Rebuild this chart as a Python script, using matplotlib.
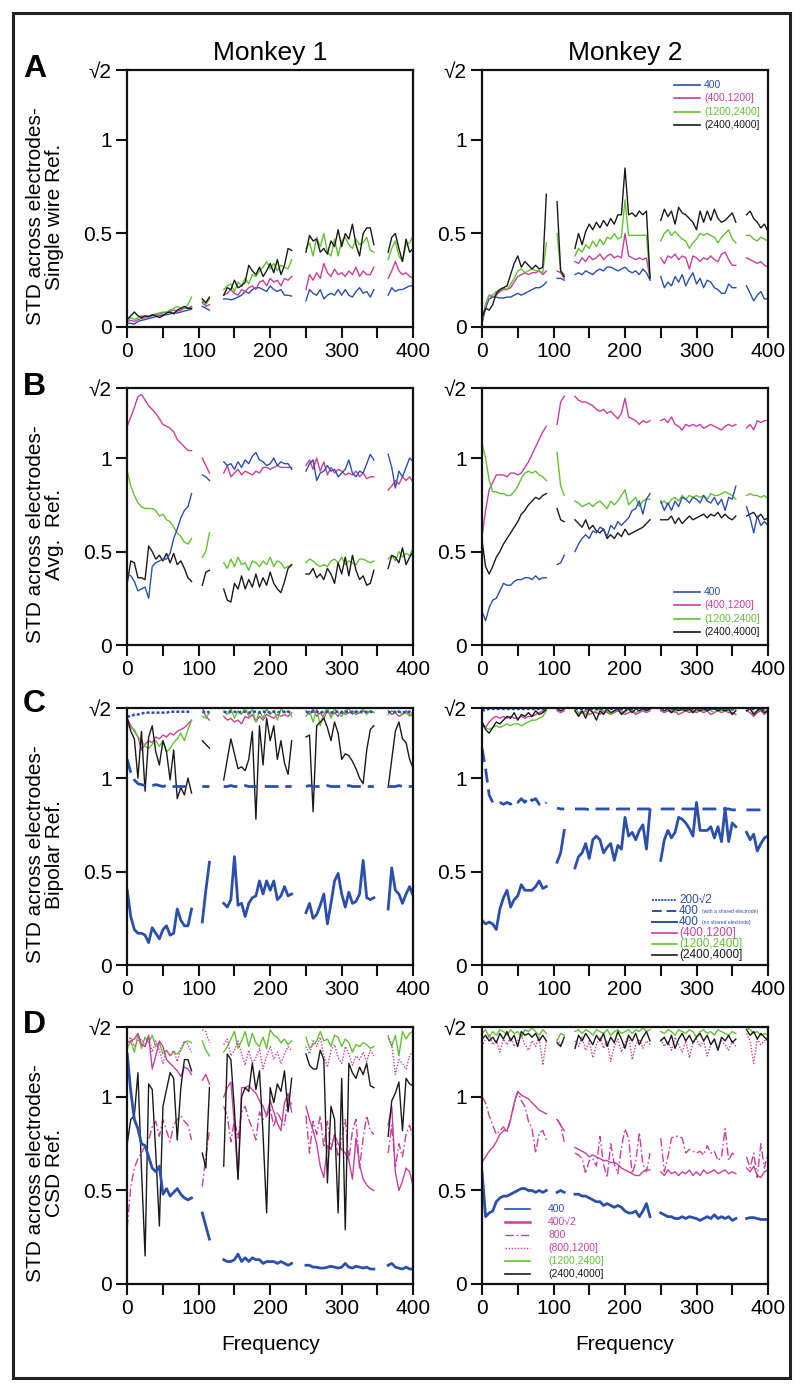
import numpy as np
import matplotlib
matplotlib.use("Agg")
import matplotlib.pyplot as plt
from matplotlib.patches import Rectangle

plt.rcParams['font.family'] = ['Liberation Sans', 'DejaVu Sans']

# ---------------------------------------------------------------- data
FREQ_STEP = 5
SEGMENTS_M1 = [(0, 90), (105, 115), (135, 230), (250, 345), (365, 400)]
SEGMENTS_M2 = [(0, 90), (105, 115), (130, 235), (250, 355), (370, 400)]
X_TICKS = [0, 50, 100, 150, 200, 250, 300, 350, 400]
X_TICK_LABELS = ['0', '', '100', '', '200', '', '300', '', '400']
Y_TICKS = [0, 0.5, 1, 1.375]
Y_TICK_LABELS = ['0', '0.5', '1', '√2']
MONKEYS = ['Monkey 1', 'Monkey 2']
PANEL_LETTERS = ['A', 'B', 'C', 'D']
Y_LABELS = ['STD across electrodes-\nSingle wire Ref.',
            'STD across electrodes-\nAvg.  Ref.',
            'STD across electrodes-\nBipolar Ref.',
            'STD across electrodes-\nCSD Ref.']
X_LABEL = 'Frequency'

# Panel A, monkey 1
A1_400 = [[0.02,0.02,0.015,0.03,0.035,0.04,0.045,0.05,0.055,0.06,0.065,0.065,0.07,0.075,0.075,0.08,0.085,0.09,0.095],
          [0.11,0.10,0.09],
          [0.15,0.15,0.145,0.15,0.16,0.17,0.19,0.18,0.20,0.21,0.21,0.20,0.19,0.22,0.20,0.19,0.20,0.17,0.17,0.165],
          [0.14,0.20,0.18,0.17,0.20,0.15,0.17,0.18,0.17,0.20,0.17,0.20,0.17,0.16,0.19,0.21,0.18,0.19,0.16,0.20],
          [0.17,0.21,0.19,0.20,0.20,0.21,0.22,0.22]]
A1_MAG = [[0.03,0.035,0.03,0.04,0.045,0.05,0.055,0.06,0.065,0.07,0.075,0.08,0.085,0.09,0.085,0.09,0.10,0.10,0.11],
          [0.13,0.11,0.12],
          [0.17,0.18,0.20,0.18,0.17,0.20,0.19,0.21,0.22,0.20,0.24,0.25,0.22,0.26,0.24,0.25,0.22,0.26,0.25,0.27],
          [0.20,0.28,0.25,0.29,0.26,0.34,0.29,0.27,0.31,0.28,0.29,0.27,0.30,0.28,0.32,0.27,0.30,0.28,0.28,0.32],
          [0.26,0.30,0.35,0.30,0.28,0.29,0.27,0.26]]
A1_GREEN = [[0.03,0.05,0.04,0.05,0.06,0.055,0.06,0.065,0.07,0.075,0.08,0.08,0.09,0.10,0.11,0.10,0.10,0.12,0.16],
            [0.14,0.12,0.15],
            [0.20,0.22,0.23,0.19,0.24,0.22,0.26,0.23,0.28,0.27,0.30,0.32,0.35,0.31,0.34,0.30,0.33,0.32,0.31,0.36],
            [0.42,0.45,0.38,0.48,0.43,0.50,0.40,0.38,0.47,0.38,0.46,0.48,0.44,0.42,0.47,0.44,0.45,0.48,0.41,0.40],
            [0.36,0.42,0.46,0.38,0.35,0.44,0.45,0.49]]
A1_BLACK = [[0.04,0.06,0.08,0.06,0.05,0.06,0.055,0.065,0.06,0.05,0.06,0.075,0.08,0.07,0.09,0.10,0.11,0.10,0.10],
            [0.15,0.13,0.16],
            [0.17,0.21,0.20,0.25,0.21,0.22,0.24,0.33,0.30,0.28,0.32,0.27,0.30,0.34,0.29,0.36,0.28,0.33,0.42,0.41],
            [0.40,0.49,0.46,0.47,0.40,0.42,0.39,0.46,0.43,0.52,0.43,0.50,0.47,0.55,0.44,0.38,0.50,0.53,0.53,0.44],
            [0.40,0.48,0.50,0.42,0.35,0.47,0.40,0.42]]

# Panel A, monkey 2
A2_400 = [[0.02,0.10,0.15,0.16,0.16,0.155,0.155,0.16,0.16,0.17,0.18,0.17,0.18,0.19,0.20,0.21,0.21,0.22,0.24],
          [0.26,0.26,0.25],
          [0.28,0.29,0.28,0.30,0.29,0.28,0.30,0.31,0.30,0.32,0.32,0.31,0.30,0.31,0.32,0.30,0.29,0.30,0.28,0.31,0.29,0.25],
          [0.27,0.21,0.24,0.22,0.27,0.24,0.28,0.22,0.26,0.29,0.23,0.26,0.21,0.25,0.24,0.21,0.20,0.18,0.18,0.23,0.21,0.21],
          [0.22,0.18,0.14,0.17,0.19,0.15,0.15]]
A2_MAG = [[0.03,0.12,0.17,0.16,0.17,0.19,0.20,0.20,0.21,0.24,0.27,0.28,0.29,0.28,0.29,0.29,0.30,0.28,0.30],
          [0.30,0.29,0.26],
          [0.35,0.34,0.37,0.35,0.38,0.36,0.37,0.39,0.36,0.38,0.39,0.37,0.38,0.37,0.50,0.38,0.37,0.36,0.37,0.36,0.37,0.26],
          [0.37,0.34,0.38,0.37,0.39,0.36,0.38,0.37,0.31,0.38,0.37,0.35,0.37,0.36,0.38,0.36,0.35,0.39,0.40,0.36,0.33,0.33],
          [0.37,0.36,0.35,0.34,0.35,0.33,0.32]]
A2_GREEN = [[0.03,0.12,0.17,0.17,0.19,0.20,0.21,0.20,0.23,0.26,0.30,0.31,0.29,0.30,0.31,0.30,0.30,0.29,0.45],
            [0.50,0.30,0.28],
            [0.38,0.42,0.40,0.44,0.42,0.46,0.43,0.47,0.44,0.48,0.47,0.50,0.47,0.48,0.68,0.49,0.49,0.49,0.49,0.49,0.49,0.27],
            [0.46,0.50,0.52,0.49,0.51,0.49,0.47,0.46,0.42,0.45,0.47,0.50,0.49,0.50,0.49,0.48,0.45,0.48,0.50,0.52,0.47,0.45],
            [0.49,0.49,0.47,0.46,0.48,0.47,0.46]]
A2_BLACK = [[0.05,0.10,0.09,0.12,0.18,0.20,0.21,0.22,0.28,0.34,0.38,0.32,0.35,0.33,0.31,0.33,0.31,0.32,0.71],
            [0.67,0.30,0.27],
            [0.42,0.50,0.44,0.51,0.55,0.52,0.56,0.53,0.57,0.54,0.58,0.55,0.60,0.60,0.85,0.60,0.61,0.59,0.62,0.60,0.62,0.26],
            [0.57,0.63,0.59,0.62,0.55,0.64,0.61,0.60,0.58,0.56,0.52,0.62,0.56,0.62,0.57,0.63,0.58,0.56,0.57,0.59,0.61,0.56],
            [0.60,0.62,0.58,0.56,0.53,0.55,0.51]]

# Panel B, monkey 1
B1_400 = [[0.38,0.37,0.34,0.29,0.30,0.31,0.25,0.42,0.44,0.45,0.46,0.46,0.49,0.57,0.62,0.68,0.72,0.74,0.81],
          [0.91,0.90,0.88],
          [0.98,0.96,0.97,0.94,0.98,0.95,0.99,0.97,1.01,1.03,0.99,0.98,0.96,0.97,1.00,0.96,0.98,0.97,0.97,0.94],
          [0.93,0.97,0.99,0.88,0.92,0.93,0.96,0.93,0.94,0.90,0.92,0.94,0.99,0.92,0.90,0.93,0.92,0.97,1.02,0.99],
          [1.02,0.95,0.84,0.93,0.90,0.95,1.00,0.98]]
B1_MAG = [[1.17,1.22,1.27,1.33,1.34,1.31,1.28,1.26,1.24,1.21,1.18,1.17,1.16,1.14,1.10,1.08,1.06,1.04,1.04],
          [1.00,0.96,0.92],
          [0.92,0.96,0.90,0.92,0.94,0.91,0.93,0.92,0.91,0.93,0.92,0.95,0.95,0.94,0.95,0.96,0.95,0.95,0.95,0.95],
          [0.96,0.99,0.94,1.00,0.93,0.98,0.91,0.95,0.92,0.94,0.93,0.91,0.92,0.91,0.93,0.90,0.92,0.89,0.90,0.90],
          [0.83,0.85,0.88,0.86,0.90,0.88,0.90,0.87]]
B1_GREEN = [[0.93,0.85,0.80,0.76,0.74,0.73,0.73,0.73,0.72,0.69,0.70,0.67,0.66,0.63,0.60,0.58,0.55,0.54,0.57],
            [0.47,0.50,0.60],
            [0.44,0.41,0.46,0.42,0.47,0.43,0.44,0.40,0.45,0.44,0.42,0.45,0.43,0.47,0.42,0.45,0.44,0.41,0.42,0.43],
            [0.44,0.46,0.45,0.43,0.42,0.43,0.42,0.45,0.46,0.44,0.47,0.43,0.45,0.44,0.43,0.46,0.46,0.45,0.44,0.45],
            [0.46,0.48,0.45,0.50,0.47,0.49,0.48,0.52]]
B1_BLACK = [[0.33,0.45,0.44,0.36,0.36,0.35,0.53,0.50,0.46,0.48,0.45,0.49,0.44,0.49,0.43,0.45,0.41,0.36,0.34],
            [0.32,0.39,0.40],
            [0.30,0.24,0.23,0.33,0.30,0.37,0.30,0.35,0.31,0.38,0.31,0.36,0.32,0.39,0.33,0.30,0.28,0.34,0.41,0.43],
            [0.38,0.38,0.41,0.36,0.38,0.35,0.41,0.38,0.33,0.44,0.38,0.47,0.37,0.48,0.40,0.35,0.37,0.32,0.33,0.40],
            [0.41,0.48,0.47,0.44,0.52,0.43,0.47,0.50]]

# Panel B, monkey 2
B2_400 = [[0.18,0.13,0.20,0.24,0.25,0.29,0.33,0.32,0.32,0.34,0.35,0.35,0.36,0.36,0.35,0.37,0.35,0.36,0.36],
          [0.43,0.44,0.48],
          [0.50,0.54,0.57,0.59,0.57,0.61,0.60,0.63,0.62,0.58,0.64,0.62,0.66,0.64,0.66,0.68,0.72,0.73,0.77,0.70,0.78,0.81],
          [0.77,0.72,0.76,0.72,0.77,0.74,0.79,0.78,0.76,0.79,0.78,0.76,0.80,0.77,0.76,0.79,0.75,0.78,0.72,0.79,0.78,0.85],
          [0.74,0.68,0.60,0.69,0.64,0.66,0.64]]
B2_MAG = [[0.58,0.72,0.83,0.87,0.91,0.91,0.91,0.90,0.92,0.92,0.91,0.92,0.95,0.98,1.02,1.06,1.10,1.14,1.17],
          [1.18,1.30,1.33],
          [1.33,1.31,1.30,1.30,1.29,1.28,1.26,1.25,1.26,1.24,1.25,1.23,1.21,1.24,1.32,1.22,1.21,1.20,1.18,1.20,1.19,1.20],
          [1.20,1.21,1.19,1.22,1.18,1.17,1.15,1.18,1.17,1.18,1.17,1.18,1.16,1.17,1.18,1.17,1.16,1.15,1.17,1.18,1.17,1.18],
          [1.16,1.18,1.15,1.20,1.19,1.20,1.20]]
B2_GREEN = [[1.08,1.00,0.88,0.82,0.82,0.81,0.81,0.80,0.80,0.82,0.85,0.89,0.92,0.93,0.92,0.93,0.91,0.90,0.88],
            [1.03,0.85,0.80],
            [0.77,0.76,0.74,0.75,0.76,0.74,0.76,0.77,0.75,0.73,0.77,0.75,0.77,0.80,0.83,0.75,0.77,0.79,0.74,0.77,0.78,0.78],
            [0.76,0.77,0.75,0.78,0.79,0.77,0.80,0.78,0.80,0.79,0.80,0.79,0.80,0.78,0.81,0.80,0.80,0.81,0.82,0.81,0.80,0.78],
            [0.80,0.81,0.80,0.80,0.79,0.80,0.78]]
B2_BLACK = [[0.56,0.42,0.38,0.42,0.47,0.50,0.54,0.57,0.60,0.63,0.66,0.70,0.72,0.75,0.77,0.79,0.78,0.80,0.81],
            [0.73,0.67,0.66],
            [0.67,0.65,0.63,0.67,0.62,0.64,0.61,0.60,0.62,0.57,0.59,0.57,0.60,0.58,0.62,0.59,0.60,0.61,0.62,0.63,0.65,0.67],
            [0.67,0.67,0.67,0.69,0.65,0.68,0.65,0.67,0.69,0.67,0.68,0.69,0.70,0.68,0.70,0.69,0.71,0.68,0.70,0.68,0.67,0.69],
            [0.69,0.70,0.71,0.68,0.70,0.67,0.68]]

# Panel C, monkey 1
C1_R2 = [[1.33,1.33,1.34,1.34,1.345,1.35,1.35,1.35,1.35,1.35,1.35,1.35,1.355,1.355,1.355,1.355,1.355,1.355,1.355],
         [1.355,1.35,1.355],
         [1.355,1.35,1.355,1.355,1.35,1.355,1.355,1.35,1.355,1.355,1.35,1.355,1.355,1.35,1.355,1.355,1.35,1.355,1.355,1.35],
         [1.355,1.35,1.355,1.355,1.35,1.355,1.355,1.35,1.355,1.355,1.35,1.355,1.355,1.35,1.355,1.355,1.35,1.355,1.355,1.35],
         [1.355,1.35,1.355,1.355,1.35,1.355,1.355,1.35]]
C1_SHARED = [[1.10,1.03,0.99,0.97,0.965,0.96,0.96,0.96,0.965,0.96,0.955,0.96,0.955,0.955,0.955,0.955,0.955,0.955,0.955],
             [0.955,0.955,0.955],
             [0.955,0.955,0.96,0.955,0.955,0.955,0.96,0.955,0.955,0.955,0.955,0.96,0.955,0.955,0.955,0.955,0.96,0.955,0.955,0.955],
             [0.955,0.96,0.955,0.955,0.955,0.955,0.96,0.955,0.955,0.955,0.955,0.955,0.96,0.955,0.955,0.955,0.955,0.955,0.955,0.955],
             [0.955,0.955,0.955,0.96,0.955,0.955,0.955,0.955]]
C1_NOSHARED = [[0.40,0.26,0.19,0.17,0.17,0.16,0.12,0.20,0.17,0.14,0.19,0.21,0.16,0.17,0.30,0.24,0.21,0.21,0.30],
               [0.23,0.40,0.55],
               [0.33,0.31,0.35,0.58,0.32,0.33,0.26,0.33,0.36,0.37,0.45,0.38,0.45,0.40,0.45,0.35,0.37,0.42,0.37,0.38],
               [0.28,0.33,0.25,0.27,0.32,0.38,0.22,0.33,0.45,0.49,0.38,0.31,0.39,0.33,0.34,0.38,0.56,0.36,0.35,0.36],
               [0.30,0.52,0.40,0.38,0.33,0.38,0.42,0.37]]
C1_MAG = [[1.32,1.28,1.25,1.22,1.15,1.18,1.20,1.19,1.22,1.21,1.23,1.22,1.24,1.23,1.25,1.26,1.27,1.29,1.31],
          [1.38,1.33,1.31],
          [1.33,1.31,1.32,1.30,1.31,1.29,1.33,1.32,1.34,1.30,1.33,1.31,1.34,1.33,1.32,1.34,1.33,1.34,1.33,1.35],
          [1.36,1.34,1.37,1.33,1.35,1.32,1.36,1.33,1.35,1.33,1.36,1.34,1.35,1.36,1.34,1.35,1.36,1.35,1.36,1.35],
          [1.36,1.34,1.35,1.33,1.34,1.36,1.34,1.33]]
C1_GREEN = [[1.28,1.27,1.26,1.22,1.20,1.17,1.16,1.18,1.20,1.17,1.20,1.14,1.16,1.19,1.21,1.24,1.20,1.26,1.31],
            [1.33,1.32,1.35],
            [1.36,1.34,1.37,1.32,1.36,1.34,1.38,1.33,1.37,1.30,1.36,1.32,1.37,1.34,1.36,1.31,1.37,1.35,1.36,1.33],
            [1.33,1.36,1.30,1.37,1.28,1.34,1.38,1.32,1.37,1.35,1.33,1.36,1.37,1.34,1.36,1.35,1.37,1.34,1.36,1.35],
            [1.34,1.36,1.35,1.36,1.34,1.35,1.33,1.36]]
C1_BLACK = [[1.32,1.25,1.21,1.00,1.25,0.93,1.22,1.28,1.14,1.07,1.20,1.14,0.99,1.15,0.89,0.95,0.91,1.00,0.92],
            [1.20,1.18,1.16],
            [0.99,1.10,1.21,1.13,1.05,1.06,1.04,1.10,1.25,0.78,1.28,1.07,1.32,1.20,1.28,1.10,1.20,1.08,1.02,1.20],
            [1.22,1.23,0.82,1.28,1.30,1.32,1.27,1.20,1.30,1.24,1.10,1.13,1.12,1.09,1.05,1.00,0.97,1.15,1.26,1.28],
            [0.95,1.10,1.25,1.30,1.21,1.19,1.10,1.05]]

# Panel C, monkey 2
C2_R2 = [[1.36,1.365,1.37,1.37,1.37,1.37,1.37,1.37,1.37,1.37,1.37,1.37,1.37,1.37,1.37,1.37,1.37,1.37,1.37],
         [1.37,1.37,1.37],
         [1.37,1.37,1.37,1.37,1.37,1.37,1.37,1.37,1.37,1.37,1.37,1.37,1.37,1.37,1.37,1.37,1.37,1.37,1.37,1.37,1.37,1.37],
         [1.37,1.37,1.37,1.37,1.37,1.37,1.37,1.37,1.37,1.37,1.37,1.37,1.37,1.37,1.37,1.37,1.37,1.37,1.37,1.37,1.37,1.37],
         [1.37,1.37,1.37,1.37,1.37,1.37,1.37]]
C2_SHARED = [[1.16,1.05,0.91,0.87,0.87,0.87,0.86,0.87,0.86,0.88,0.87,0.89,0.87,0.90,0.88,0.89,0.86,0.85,0.87],
             [0.84,0.835,0.835],
             [0.835,0.835,0.835,0.835,0.83,0.835,0.835,0.835,0.835,0.835,0.835,0.83,0.835,0.835,0.835,0.835,0.835,0.835,0.835,0.835,0.835,0.835],
             [0.835,0.835,0.835,0.835,0.835,0.835,0.835,0.835,0.835,0.835,0.835,0.835,0.835,0.835,0.835,0.835,0.835,0.835,0.835,0.835,0.83,0.83],
             [0.83,0.83,0.83,0.83,0.83,0.83,0.83]]
C2_NOSHARED = [[0.24,0.22,0.23,0.22,0.19,0.30,0.36,0.40,0.31,0.35,0.37,0.43,0.40,0.40,0.40,0.42,0.45,0.41,0.42],
               [0.55,0.60,0.72],
               [0.52,0.58,0.60,0.65,0.57,0.67,0.69,0.67,0.60,0.63,0.65,0.56,0.64,0.62,0.79,0.69,0.71,0.67,0.72,0.75,0.62,0.83],
               [0.56,0.67,0.72,0.68,0.71,0.79,0.78,0.76,0.73,0.69,0.87,0.72,0.72,0.72,0.74,0.68,0.74,0.66,0.84,0.66,0.76,0.74],
               [0.71,0.67,0.70,0.61,0.65,0.68,0.69]]
C2_MAG = [[1.30,1.27,1.30,1.32,1.33,1.32,1.33,1.32,1.33,1.32,1.32,1.33,1.32,1.33,1.33,1.34,1.35,1.36,1.36],
          [1.36,1.35,1.36],
          [1.36,1.34,1.35,1.36,1.34,1.35,1.35,1.34,1.36,1.35,1.34,1.35,1.36,1.35,1.34,1.35,1.36,1.34,1.35,1.36,1.35,1.36],
          [1.36,1.35,1.36,1.35,1.36,1.34,1.35,1.36,1.35,1.36,1.35,1.36,1.35,1.36,1.34,1.35,1.36,1.35,1.36,1.35,1.35,1.34],
          [1.36,1.35,1.33,1.35,1.36,1.34,1.36]]
C2_GREEN = [[1.28,1.27,1.26,1.27,1.28,1.27,1.28,1.29,1.28,1.29,1.29,1.28,1.29,1.30,1.31,1.31,1.32,1.33,1.36],
            [1.37,1.36,1.37],
            [1.37,1.35,1.36,1.34,1.37,1.35,1.36,1.37,1.35,1.36,1.34,1.36,1.37,1.36,1.35,1.37,1.36,1.35,1.36,1.37,1.36,1.37],
            [1.37,1.36,1.37,1.36,1.35,1.37,1.36,1.37,1.36,1.35,1.36,1.37,1.36,1.37,1.36,1.35,1.37,1.36,1.37,1.36,1.36,1.37],
            [1.36,1.37,1.35,1.36,1.37,1.36,1.36]]
C2_BLACK = [[1.30,1.26,1.24,1.27,1.30,1.29,1.31,1.33,1.32,1.35,1.31,1.34,1.33,1.35,1.33,1.36,1.34,1.35,1.37],
            [1.37,1.36,1.37],
            [1.36,1.33,1.36,1.32,1.37,1.35,1.31,1.36,1.34,1.37,1.35,1.36,1.37,1.34,1.36,1.37,1.35,1.37,1.36,1.37,1.36,1.37],
            [1.37,1.36,1.37,1.35,1.37,1.36,1.37,1.36,1.37,1.35,1.37,1.36,1.37,1.36,1.37,1.37,1.36,1.37,1.36,1.37,1.34,1.36],
            [1.36,1.37,1.34,1.36,1.37,1.35,1.36]]

# Panel D, monkey 1
D1_400 = [[1.23,1.03,0.88,0.83,0.75,0.74,0.68,0.62,0.60,0.63,0.48,0.51,0.47,0.49,0.51,0.48,0.46,0.45,0.46],
          [0.38,0.31,0.24],
          [0.13,0.12,0.12,0.13,0.16,0.12,0.14,0.12,0.14,0.13,0.13,0.11,0.12,0.12,0.12,0.11,0.12,0.11,0.10,0.11],
          [0.10,0.10,0.09,0.09,0.085,0.085,0.09,0.095,0.09,0.085,0.09,0.11,0.09,0.085,0.095,0.09,0.085,0.09,0.08,0.08],
          [0.10,0.11,0.09,0.085,0.08,0.09,0.08,0.08]]
D1_400R2 = [[1.29,1.30,1.31,1.34,1.28,1.27,1.33,1.15,1.22,1.30,1.27,1.20,1.18,1.16,1.14,1.11,1.16,1.15,1.12],
            [1.09,1.12,1.07],
            [1.00,1.05,1.08,0.85,0.56,1.05,1.05,1.06,1.04,1.02,0.98,0.95,0.90,0.98,0.92,0.86,0.82,0.97,1.02,0.92],
            [0.95,0.88,0.82,0.75,0.63,0.57,0.74,0.72,0.80,0.75,0.72,0.70,0.66,0.56,0.78,0.64,0.56,0.53,0.51,0.50],
            [0.85,0.95,0.60,0.50,0.55,0.62,0.60,0.52]]
D1_800 = [[0.30,0.52,0.62,0.67,0.70,0.74,0.77,0.84,0.87,0.79,0.88,0.82,0.76,0.85,0.88,0.90,0.87,0.85,0.77],
          [0.52,0.68,0.82],
          [0.95,0.90,0.76,0.88,0.78,0.92,0.95,0.88,0.83,0.77,0.92,0.88,0.90,0.94,0.84,0.92,0.88,0.85,1.00,0.96],
          [0.90,0.70,0.87,0.80,0.90,0.73,0.87,0.72,0.80,0.68,0.78,0.88,0.66,0.82,0.88,0.62,0.78,0.90,0.82,0.80],
          [0.70,0.85,0.62,0.75,0.68,0.80,0.85,0.78]]
D1_800_1200 = [[1.30,1.32,1.27,1.30,1.31,1.27,1.32,1.24,1.30,1.25,1.18,1.25,1.22,1.25,1.19,1.26,1.30,1.28,1.24],
               [1.36,1.35,1.29],
               [1.28,1.31,1.22,1.25,1.30,1.23,1.17,1.25,1.18,1.21,1.26,1.15,1.22,1.27,1.20,1.24,1.18,1.23,1.27,1.25],
               [1.27,1.23,1.30,1.27,1.32,1.22,1.16,1.25,1.28,1.21,1.18,1.27,1.23,1.17,1.22,1.20,1.24,1.19,1.25,1.22],
               [1.33,1.28,1.12,1.20,1.18,1.15,1.22,1.25]]
D1_GREEN = [[1.26,1.30,1.24,1.33,1.26,1.32,1.29,1.33,1.27,1.29,1.23,1.25,1.22,1.24,1.23,1.25,1.29,1.30,1.29],
            [1.30,1.25,1.22],
            [1.24,1.27,1.31,1.35,1.26,1.30,1.35,1.27,1.34,1.29,1.27,1.32,1.26,1.36,1.33,1.32,1.29,1.31,1.28,1.30],
            [1.32,1.26,1.28,1.30,1.35,1.30,1.31,1.27,1.33,1.32,1.27,1.31,1.29,1.24,1.28,1.27,1.29,1.28,1.26,1.27],
            [1.32,1.27,1.33,1.22,1.35,1.31,1.34,1.35]]
D1_BLACK = [[0.75,0.88,0.90,1.13,0.61,0.15,1.07,1.04,0.70,0.31,0.95,1.04,1.13,1.10,0.77,1.05,1.20,1.20,1.14],
            [0.70,0.62,1.05],
            [0.63,1.23,1.20,0.93,0.56,1.00,1.05,1.03,1.18,1.04,1.14,0.80,0.38,1.05,0.97,1.07,1.03,1.14,0.92,1.10],
            [1.23,1.17,1.15,1.15,1.25,1.20,0.54,0.95,0.88,0.38,1.10,0.29,1.18,1.13,1.10,1.16,1.12,1.18,1.06,1.05],
            [0.79,0.98,1.02,1.08,0.82,1.10,1.07,1.06]]

# Panel D, monkey 2
D2_400 = [[0.60,0.36,0.38,0.39,0.44,0.46,0.47,0.47,0.48,0.49,0.50,0.51,0.51,0.50,0.50,0.49,0.50,0.49,0.50],
          [0.49,0.50,0.49],
          [0.48,0.48,0.47,0.47,0.46,0.45,0.44,0.44,0.42,0.43,0.42,0.41,0.42,0.41,0.39,0.38,0.38,0.39,0.36,0.39,0.43,0.36],
          [0.38,0.37,0.36,0.36,0.35,0.35,0.36,0.35,0.36,0.355,0.35,0.34,0.35,0.36,0.35,0.37,0.35,0.36,0.35,0.36,0.34,0.35],
          [0.35,0.355,0.355,0.35,0.345,0.345,0.345]]
D2_400R2 = [[0.65,0.68,0.71,0.73,0.76,0.80,0.82,0.82,0.88,0.97,1.03,1.01,1.00,0.99,0.97,0.95,0.93,0.92,0.91],
            [0.88,0.85,0.82],
            [0.73,0.72,0.71,0.70,0.68,0.69,0.68,0.67,0.66,0.66,0.65,0.65,0.64,0.62,0.61,0.60,0.59,0.58,0.58,0.60,0.61,0.61],
            [0.60,0.58,0.61,0.59,0.60,0.58,0.60,0.59,0.61,0.58,0.60,0.58,0.61,0.59,0.60,0.61,0.59,0.60,0.61,0.59,0.60,0.59],
            [0.62,0.60,0.63,0.58,0.57,0.60,0.61]]
D2_800 = [[1.00,0.97,0.90,0.85,0.80,0.82,0.84,0.81,0.88,0.96,1.03,0.98,0.95,0.87,0.83,0.70,0.81,0.82,0.77],
          [0.88,0.85,0.76],
          [0.70,0.69,0.67,0.59,0.66,0.67,0.63,0.79,0.64,0.57,0.75,0.64,0.59,0.73,0.83,0.78,0.59,0.65,0.81,0.64,0.60,0.70],
          [0.78,0.60,0.68,0.78,0.79,0.79,0.78,0.70,0.72,0.71,0.70,0.71,0.69,0.74,0.70,0.71,0.66,0.68,0.83,0.66,0.70,0.68],
          [0.68,0.62,0.70,0.57,0.75,0.62,0.70]]
D2_800_1200 = [[1.27,1.31,1.33,1.28,1.30,1.24,1.31,1.28,1.32,1.27,1.30,1.33,1.28,1.25,1.30,1.27,1.32,1.17,1.30],
               [1.31,1.28,1.30],
               [1.30,1.27,1.32,1.25,1.30,1.21,1.28,1.32,1.26,1.30,1.19,1.27,1.31,1.24,1.29,1.33,1.20,1.28,1.31,1.26,1.30,1.28],
               [1.31,1.27,1.30,1.25,1.32,1.28,1.24,1.30,1.21,1.29,1.31,1.27,1.30,1.22,1.28,1.31,1.26,1.30,1.28,1.25,1.30,1.27],
               [1.34,1.30,1.18,1.31,1.28,1.30,1.32]]
D2_GREEN = [[1.34,1.36,1.32,1.35,1.33,1.36,1.35,1.33,1.36,1.34,1.35,1.32,1.36,1.35,1.37,1.35,1.33,1.36,1.34],
            [1.30,1.34,1.33],
            [1.35,1.36,1.34,1.36,1.35,1.33,1.36,1.35,1.34,1.36,1.33,1.35,1.36,1.34,1.35,1.36,1.34,1.36,1.35,1.37,1.35,1.36],
            [1.35,1.34,1.36,1.35,1.33,1.36,1.35,1.34,1.36,1.35,1.32,1.35,1.36,1.34,1.35,1.33,1.36,1.35,1.34,1.33,1.35,1.34],
            [1.37,1.36,1.34,1.35,1.33,1.34,1.33]]
D2_BLACK = [[1.31,1.33,1.30,1.32,1.29,1.34,1.31,1.35,1.30,1.33,1.27,1.35,1.33,1.34,1.32,1.34,1.30,1.33,1.30],
            [1.29,1.27,1.32],
            [1.26,1.33,1.30,1.34,1.31,1.28,1.33,1.30,1.34,1.27,1.32,1.29,1.35,1.31,1.26,1.33,1.30,1.34,1.28,1.32,1.35,1.30],
            [1.30,1.32,1.28,1.33,1.26,1.31,1.34,1.30,1.33,1.29,1.32,1.34,1.30,1.33,1.28,1.31,1.25,1.32,1.30,1.33,1.29,1.31],
            [1.36,1.33,1.35,1.31,1.34,1.32,1.30]]

# ---------------------------------------------------------------- style
BLUE = '#2b4fae'
MAG = '#c93e9e'
GREEN = '#62c232'
BLACK = '#1a1a1a'
DOT = (0, (1.2, 0.8))
DASH = (0, (5, 2.5))
DASHDOT = (0, (6, 2, 1.2, 2))
FINEDOT = (0, (1, 1.2))


def build(segments, values):
    xs, ys = [], []
    for (a, b), seg in zip(segments, values):
        f = np.arange(a, b + 1, FREQ_STEP)
        n = min(len(f), len(seg))
        xs.extend(list(f[:n]))
        ys.extend(list(seg[:n]))
        xs.append(np.nan)
        ys.append(np.nan)
    return np.array(xs, float), np.array(ys, float)


# series: (values, color, linestyle, linewidth)
PANELS = {
    (0, 0): [(A1_400, BLUE, '-', 1.0), (A1_MAG, MAG, '-', 1.0), (A1_GREEN, GREEN, '-', 1.0), (A1_BLACK, BLACK, '-', 1.0)],
    (0, 1): [(A2_400, BLUE, '-', 1.0), (A2_MAG, MAG, '-', 1.0), (A2_GREEN, GREEN, '-', 1.0), (A2_BLACK, BLACK, '-', 1.0)],
    (1, 0): [(B1_MAG, MAG, '-', 1.0), (B1_GREEN, GREEN, '-', 1.0), (B1_BLACK, BLACK, '-', 1.0), (B1_400, BLUE, '-', 1.0)],
    (1, 1): [(B2_MAG, MAG, '-', 1.0), (B2_GREEN, GREEN, '-', 1.0), (B2_BLACK, BLACK, '-', 1.0), (B2_400, BLUE, '-', 1.0)],
    (2, 0): [(C1_MAG, MAG, '-', 1.0), (C1_GREEN, GREEN, '-', 1.0), (C1_BLACK, BLACK, '-', 1.0),
             (C1_R2, BLUE, DOT, 1.8), (C1_SHARED, BLUE, DASH, 2.0), (C1_NOSHARED, BLUE, '-', 2.0)],
    (2, 1): [(C2_MAG, MAG, '-', 1.0), (C2_GREEN, GREEN, '-', 1.0), (C2_BLACK, BLACK, '-', 1.0),
             (C2_R2, BLUE, DOT, 1.8), (C2_SHARED, BLUE, DASH, 2.0), (C2_NOSHARED, BLUE, '-', 2.0)],
    (3, 0): [(D1_GREEN, GREEN, '-', 1.0), (D1_800_1200, MAG, FINEDOT, 1.0), (D1_400R2, MAG, '-', 1.0),
             (D1_800, MAG, DASHDOT, 1.0), (D1_BLACK, BLACK, '-', 1.0), (D1_400, BLUE, '-', 2.0)],
    (3, 1): [(D2_GREEN, GREEN, '-', 1.0), (D2_800_1200, MAG, FINEDOT, 1.0), (D2_BLACK, BLACK, '-', 1.0),
             (D2_400R2, MAG, '-', 1.0), (D2_800, MAG, DASHDOT, 1.0), (D2_400, BLUE, '-', 2.0)],
}

LEGENDS = {
    (0, 1): dict(x0=0.671, x1=0.762, xt=0.776, ys=[0.942, 0.891, 0.837, 0.786], fs=7.5,
                 entries=[('400', BLUE, '-', 1.2, None), ('(400,1200]', MAG, '-', 1.2, None),
                          ('(1200,2400]', GREEN, '-', 1.2, None), ('(2400,4000]', BLACK, '-', 1.2, None)]),
    (1, 1): dict(x0=0.671, x1=0.762, xt=0.776, ys=[0.207, 0.155, 0.103, 0.051], fs=7.5,
                 entries=[('400', BLUE, '-', 1.2, None), ('(400,1200]', MAG, '-', 1.2, None),
                          ('(1200,2400]', GREEN, '-', 1.2, None), ('(2400,4000]', BLACK, '-', 1.2, None)]),
    (2, 1): dict(x0=0.594, x1=0.682, xt=0.689, ys=[0.254, 0.211, 0.168, 0.125, 0.082, 0.039], fs=8.5,
                 entries=[('200√2', BLUE, (0, (1, 0.6)), 1.4, None),
                          ('400', BLUE, DASH, 1.4, '(with a shared electrode)'),
                          ('400', BLUE, '-', 1.4, '(no shared electrode)'),
                          ('(400,1200]', MAG, '-', 1.2, None), ('(1200,2400]', GREEN, '-', 1.2, None),
                          ('(2400,4000]', BLACK, '-', 1.2, None)]),
    (3, 1): dict(x0=0.08, x1=0.168, xt=0.231, ys=[0.292, 0.241, 0.191, 0.140, 0.089, 0.039], fs=7.5,
                 entries=[('400', BLUE, '-', 1.2, None), ('400√2', MAG, '-', 1.8, None),
                          ('800', MAG, DASHDOT, 1.0, None), ('(800,1200]', MAG, FINEDOT, 1.0, None),
                          ('(1200,2400]', GREEN, '-', 1.2, None), ('(2400,4000]', BLACK, '-', 1.2, None)]),
}

ROW_BOTTOMS = [0.7651, 0.5366, 0.3067, 0.0776]
ROW_H = 0.1847
COL_LEFTS = [0.159, 0.6025]
COL_W = 0.3575
LETTER_BASELINES = [77, 395, 712, 1033]

fig = plt.figure(figsize=(8, 13.92), dpi=100)

for r in range(4):
    for c in range(2):
        ax = fig.add_axes([COL_LEFTS[c], ROW_BOTTOMS[r], COL_W, ROW_H])
        segs = SEGMENTS_M1 if c == 0 else SEGMENTS_M2
        for vals, color, ls, lw in PANELS[(r, c)]:
            x, y = build(segs, vals)
            ax.plot(x, y, color=color, ls=ls, lw=lw, solid_joinstyle='round')
        ax.set_xlim(0, 400)
        ax.set_ylim(0, 1.375)
        ax.set_xticks(X_TICKS)
        ax.set_xticklabels(X_TICK_LABELS)
        ax.set_yticks(Y_TICKS)
        ax.set_yticklabels(Y_TICK_LABELS)
        ax.tick_params(direction='out', length=8, width=1.5, labelsize=15, pad=3, color='#111')
        for sp in ax.spines.values():
            sp.set_linewidth(1.6)
            sp.set_color('#111')
        if c == 0:
            ax.set_ylabel(Y_LABELS[r], fontsize=15, linespacing=0.95)
            ax.yaxis.set_label_coords(-0.222, 0.43)
        if r == 0:
            ax.set_title(MONKEYS[c], fontsize=19, pad=7)
        if r == 3:
            ax.set_xlabel(X_LABEL, fontsize=15)
            ax.xaxis.set_label_coords(0.5, -0.2)
        if (r, c) in LEGENDS:
            L = LEGENDS[(r, c)]
            for y, (label, color, ls, lw, small) in zip(L['ys'], L['entries']):
                ax.plot([L['x0'], L['x1']], [y, y], transform=ax.transAxes, color=color, ls=ls, lw=lw,
                        clip_on=False)
                t = ax.text(L['xt'], y, label, transform=ax.transAxes, color=color, fontsize=L['fs'],
                            va='center', ha='left')
                if small:
                    ax.annotate(small, xy=(1, 0.45), xycoords=t, xytext=(2, 0), textcoords='offset points',
                                fontsize=3.6, va='center', ha='left', color=color)
    fig.text(23 / 800, 1 - LETTER_BASELINES[r] / 1392, PANEL_LETTERS[r], fontsize=23, fontweight='bold',
             ha='left', va='baseline')

fig.add_artist(Rectangle((0.01625, 0.0100), 0.97125, 0.9806, transform=fig.transFigure, fill=False,
                         lw=2.2, ec='#222'))

fig.savefig('out.png', dpi=100)
